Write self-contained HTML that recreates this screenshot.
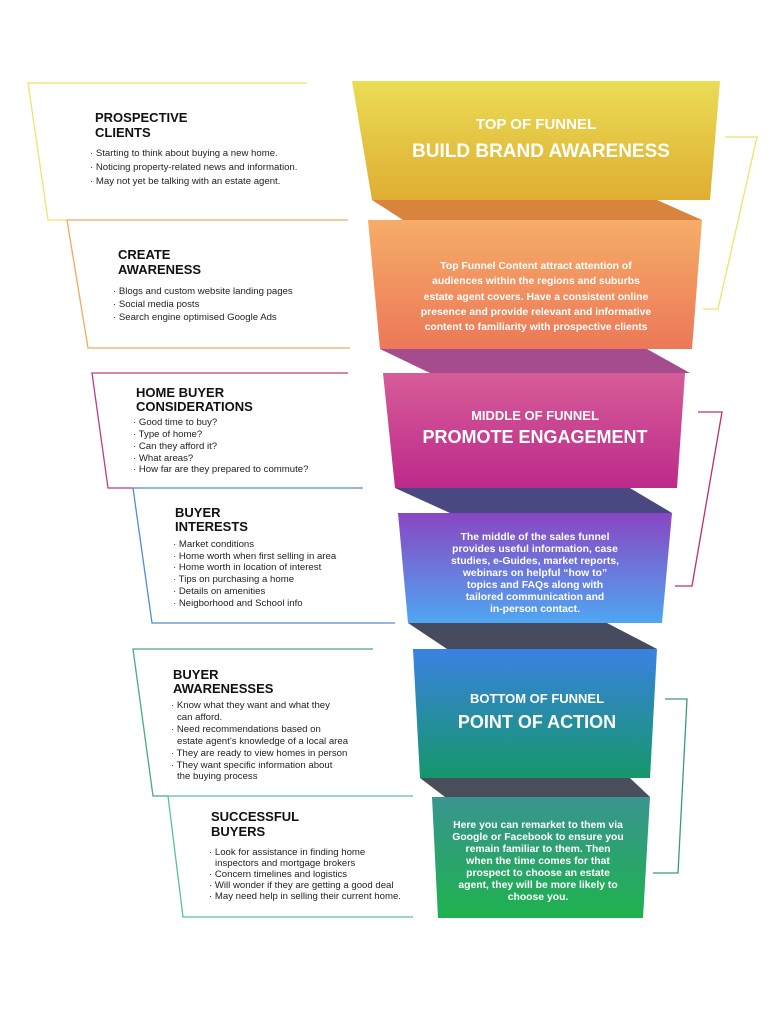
<!DOCTYPE html>
<html><head><meta charset="utf-8"><style>
html,body{margin:0;padding:0;background:#fff;}
svg{display:block;}
.t{font-family:"Liberation Sans",sans-serif;font-weight:bold;font-size:13px;fill:#111;}
.b{font-family:"Liberation Sans",sans-serif;font-size:9.6px;fill:#222;}
.h1{font-family:"Liberation Sans",sans-serif;font-weight:bold;fill:#fff;text-anchor:middle;}
.p{font-family:"Liberation Sans",sans-serif;font-weight:bold;font-size:10.4px;fill:#fff;text-anchor:middle;}
</style></head><body>
<svg width="784" height="1024" viewBox="0 0 784 1024" xmlns="http://www.w3.org/2000/svg">
<defs>
<linearGradient id="gY" x1="0" y1="0" x2="0" y2="1"><stop offset="0" stop-color="#ebdc55"/><stop offset="1" stop-color="#dfae32"/></linearGradient>
<linearGradient id="gO" x1="0" y1="0" x2="0" y2="1"><stop offset="0" stop-color="#f6ad68"/><stop offset="1" stop-color="#ec7858"/></linearGradient>
<linearGradient id="gM" x1="0" y1="0" x2="0" y2="1"><stop offset="0" stop-color="#d65c98"/><stop offset="1" stop-color="#bd2a8a"/></linearGradient>
<linearGradient id="gP" x1="0" y1="0" x2="0" y2="1"><stop offset="0" stop-color="#8a46c2"/><stop offset="1" stop-color="#4fa6f2"/></linearGradient>
<linearGradient id="gT" x1="0" y1="0" x2="0" y2="1"><stop offset="0" stop-color="#3a82e2"/><stop offset="1" stop-color="#15976a"/></linearGradient>
<linearGradient id="gG" x1="0" y1="0" x2="0" y2="1"><stop offset="0" stop-color="#3a9490"/><stop offset="1" stop-color="#1eb24e"/></linearGradient>
</defs>

<polygon points="372,200 657,200 702,220 403,220" fill="#d8843e"/>
<polygon points="380,349 647,349 690,373 430,373" fill="#a54c8e"/>
<polygon points="395,488 630,488 672,513 450,513" fill="#4a4880"/>
<polygon points="408,623 607,623 657,649 447,649" fill="#474b5e"/>
<polygon points="420,778 630,778 650,797 445,797" fill="#484e5a"/>

<polygon points="352,81 720,81 710,200 372,200" fill="url(#gY)"/>
<polygon points="368,220 702,220 692,349 380,349" fill="url(#gO)"/>
<polygon points="383,373 685,373 677,488 395,488" fill="url(#gM)"/>
<polygon points="398,513 672,513 662,623 408,623" fill="url(#gP)"/>
<polygon points="413,649 657,649 650,778 420,778" fill="url(#gT)"/>
<polygon points="432,797 650,797 643,918 438,918" fill="url(#gG)"/>

<text class="h1" x="536" y="129" font-size="15">TOP OF FUNNEL</text>
<text class="h1" x="541" y="157" font-size="19">BUILD BRAND AWARENESS</text>
<text class="p" x="536" y="269">Top Funnel Content attract attention of</text>
<text class="p" x="536" y="284">audiences within the regions and suburbs</text>
<text class="p" x="536" y="300">estate agent covers. Have a consistent online</text>
<text class="p" x="536" y="315">presence and provide relevant and informative</text>
<text class="p" x="536" y="330">content to familiarity with prospective clients</text>

<text class="h1" x="535" y="420" font-size="13">MIDDLE OF FUNNEL</text>
<text class="h1" x="535" y="443" font-size="18">PROMOTE ENGAGEMENT</text>
<text class="p" x="535" y="540">The middle of the sales funnel</text>
<text class="p" x="535" y="552">provides useful information, case</text>
<text class="p" x="535" y="564">studies, e-Guides, market reports,</text>
<text class="p" x="535" y="576">webinars on helpful “how to”</text>
<text class="p" x="535" y="588">topics and FAQs along with</text>
<text class="p" x="535" y="600">tailored communication and</text>
<text class="p" x="535" y="612">in-person contact.</text>

<text class="h1" x="537" y="703" font-size="13">BOTTOM OF FUNNEL</text>
<text class="h1" x="537" y="728" font-size="18">POINT OF ACTION</text>
<text class="p" x="538" y="828">Here you can remarket to them via</text>
<text class="p" x="538" y="840">Google or Facebook to ensure you</text>
<text class="p" x="538" y="852">remain familiar to them. Then</text>
<text class="p" x="538" y="864">when the time comes for that</text>
<text class="p" x="538" y="876">prospect to choose an estate</text>
<text class="p" x="538" y="888">agent, they will be more likely to</text>
<text class="p" x="538" y="900">choose you.</text>

<polyline points="725,137 757,137 718,309 703,309" fill="none" stroke="#ece46a" stroke-width="1.3"/>
<polyline points="698,412 722,412 692,586 675,586" fill="none" stroke="#b8306e" stroke-width="1.3"/>
<polyline points="665,699 687,699 678,873 653,873" fill="none" stroke="#3a9a80" stroke-width="1.3"/>

<polyline points="307,83 28,83 48,220 67,220" fill="none" stroke="#ece472" stroke-width="1.3"/>
<polyline points="348,220 67,220 88,348 350,348" fill="none" stroke="#efaa5e" stroke-width="1.3"/>
<polyline points="348,373 92,373 108,488 133,488" fill="none" stroke="#be3d7e" stroke-width="1.3"/>
<polyline points="363,488 133,488 152,623 395,623" fill="none" stroke="#4d8fcf" stroke-width="1.3"/>
<polyline points="373,649 133,649 153,796 168,796" fill="none" stroke="#4aa894" stroke-width="1.3"/>
<polyline points="413,796 168,796 183,917 413,917" fill="none" stroke="#5bc09c" stroke-width="1.3"/>

<text class="t" x="95" y="122">PROSPECTIVE</text>
<text class="t" x="95" y="137">CLIENTS</text>
<text class="b" x="90" y="156">· Starting to think about buying a new home.</text>
<text class="b" x="90" y="170">· Noticing property-related news and information.</text>
<text class="b" x="90" y="184">· May not yet be talking with an estate agent.</text>

<text class="t" x="118" y="259">CREATE</text>
<text class="t" x="118" y="274">AWARENESS</text>
<text class="b" x="113" y="294">· Blogs and custom website landing pages</text>
<text class="b" x="113" y="307">· Social media posts</text>
<text class="b" x="113" y="320">· Search engine optimised Google Ads</text>

<text class="t" x="136" y="397">HOME BUYER</text>
<text class="t" x="136" y="411">CONSIDERATIONS</text>
<text class="b" x="133" y="425">· Good time to buy?</text>
<text class="b" x="133" y="437">· Type of home?</text>
<text class="b" x="133" y="449">· Can they afford it?</text>
<text class="b" x="133" y="461">· What areas?</text>
<text class="b" x="133" y="472">· How far are they prepared to commute?</text>

<text class="t" x="175" y="517">BUYER</text>
<text class="t" x="175" y="531">INTERESTS</text>
<text class="b" x="173" y="547">· Market conditions</text>
<text class="b" x="173" y="559">· Home worth when first selling in area</text>
<text class="b" x="173" y="570">· Home worth in location of interest</text>
<text class="b" x="173" y="582">· Tips on purchasing a home</text>
<text class="b" x="173" y="594">· Details on amenities</text>
<text class="b" x="173" y="606">· Neigborhood and School info</text>

<text class="t" x="173" y="679">BUYER</text>
<text class="t" x="173" y="693">AWARENESSES</text>
<text class="b" x="171" y="708">· Know what they want and what they</text>
<text class="b" x="177" y="720">can afford.</text>
<text class="b" x="171" y="732">· Need recommendations based on</text>
<text class="b" x="177" y="744">estate agent’s knowledge of a local area</text>
<text class="b" x="171" y="756">· They are ready to view homes in person</text>
<text class="b" x="171" y="768">· They want specific information about</text>
<text class="b" x="177" y="779">the buying process</text>

<text class="t" x="211" y="821">SUCCESSFUL</text>
<text class="t" x="211" y="836">BUYERS</text>
<text class="b" x="209" y="855">· Look for assistance in finding home</text>
<text class="b" x="215" y="866">inspectors and mortgage brokers</text>
<text class="b" x="209" y="877">· Concern timelines and logistics</text>
<text class="b" x="209" y="888">· Will wonder if they are getting a good deal</text>
<text class="b" x="209" y="899">· May need help in selling their current home.</text>
</svg>
</body></html>
